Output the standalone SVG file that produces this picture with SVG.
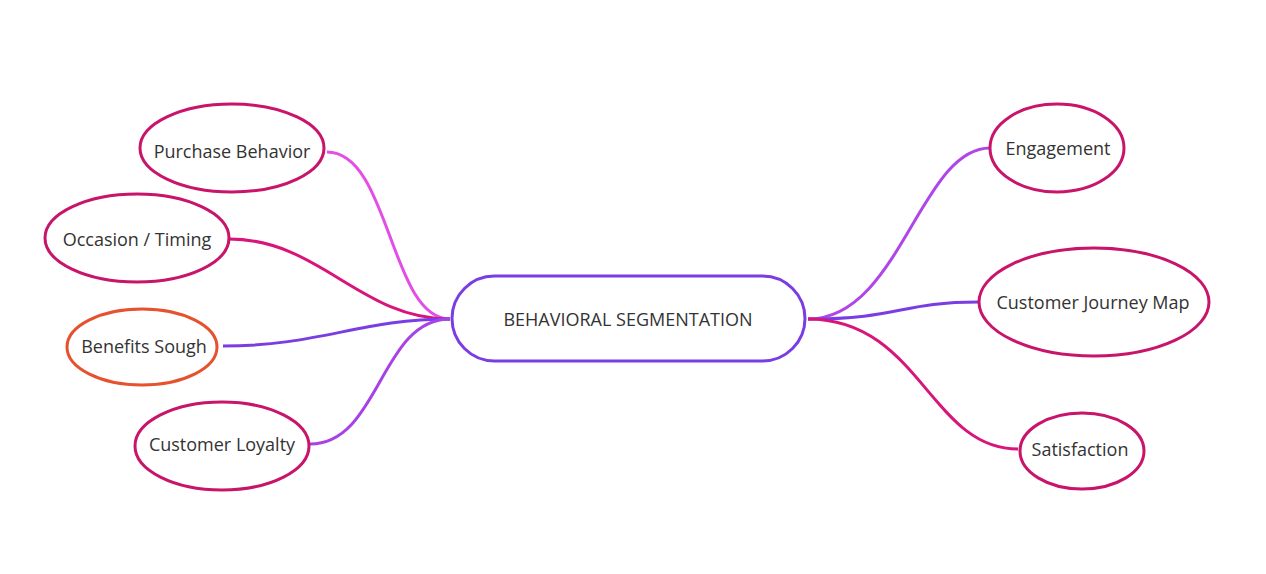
<svg xmlns="http://www.w3.org/2000/svg" width="1266" height="574" viewBox="0 0 1266 574">
<style>
text{font-family:"Open Sans","Noto Sans",sans-serif;font-size:18px;fill:#333;text-anchor:middle;dominant-baseline:central}
.n{fill:#fff;stroke:#c8146a;stroke-width:3}
.c{fill:none;stroke-width:3}
</style>
<rect width="1266" height="574" fill="#fff"/>
<g id="connectors">
<path class="c" stroke="#e34ee6" d="M327 152 C390 152,390 319,450 319"/>
<path class="c" stroke="#d8157b" d="M229 239 C320 239,360 319,450 319"/>
<path class="c" stroke="#7a3de3" d="M223 346 C320 346,360 319,450 319"/>
<path class="c" stroke="#a743e6" d="M310 444 C380 444,380 319,450 319"/>
<path class="c" stroke="#b045e8" d="M808 319 C900 319,920 148,990 148"/>
<path class="c" stroke="#7a3de3" d="M808 319 C900 319,900 302,979 302"/>
<path class="c" stroke="#d8157b" d="M808 319 C920 319,930 449,1018 449"/>
</g>
<g id="center"><rect x="452" y="276" width="353" height="85" rx="42.5" fill="#fff" stroke="#7a3de3" stroke-width="3"/><text x="628" y="319">BEHAVIORAL SEGMENTATION</text></g>
<g id="purchase"><ellipse class="n" cx="232" cy="148" rx="92" ry="44"/><text x="232" y="151">Purchase Behavior</text></g>
<g id="occasion"><ellipse class="n" cx="137" cy="238" rx="92" ry="44"/><text x="137" y="239">Occasion / Timing</text></g>
<g id="benefits"><ellipse class="n" cx="142" cy="347" rx="75" ry="38" style="stroke:#e6522e"/><text x="144" y="346">Benefits Sough</text></g>
<g id="loyalty"><ellipse class="n" cx="222" cy="446" rx="87" ry="44"/><text x="222" y="444">Customer Loyalty</text></g>
<g id="engagement"><ellipse class="n" cx="1057" cy="148" rx="67" ry="44"/><text x="1058" y="148">Engagement</text></g>
<g id="journey"><ellipse class="n" cx="1094" cy="302" rx="115" ry="54"/><text x="1093" y="302">Customer Journey Map</text></g>
<g id="satisfaction"><ellipse class="n" cx="1082" cy="451" rx="62" ry="38"/><text x="1080" y="449">Satisfaction</text></g>
</svg>
